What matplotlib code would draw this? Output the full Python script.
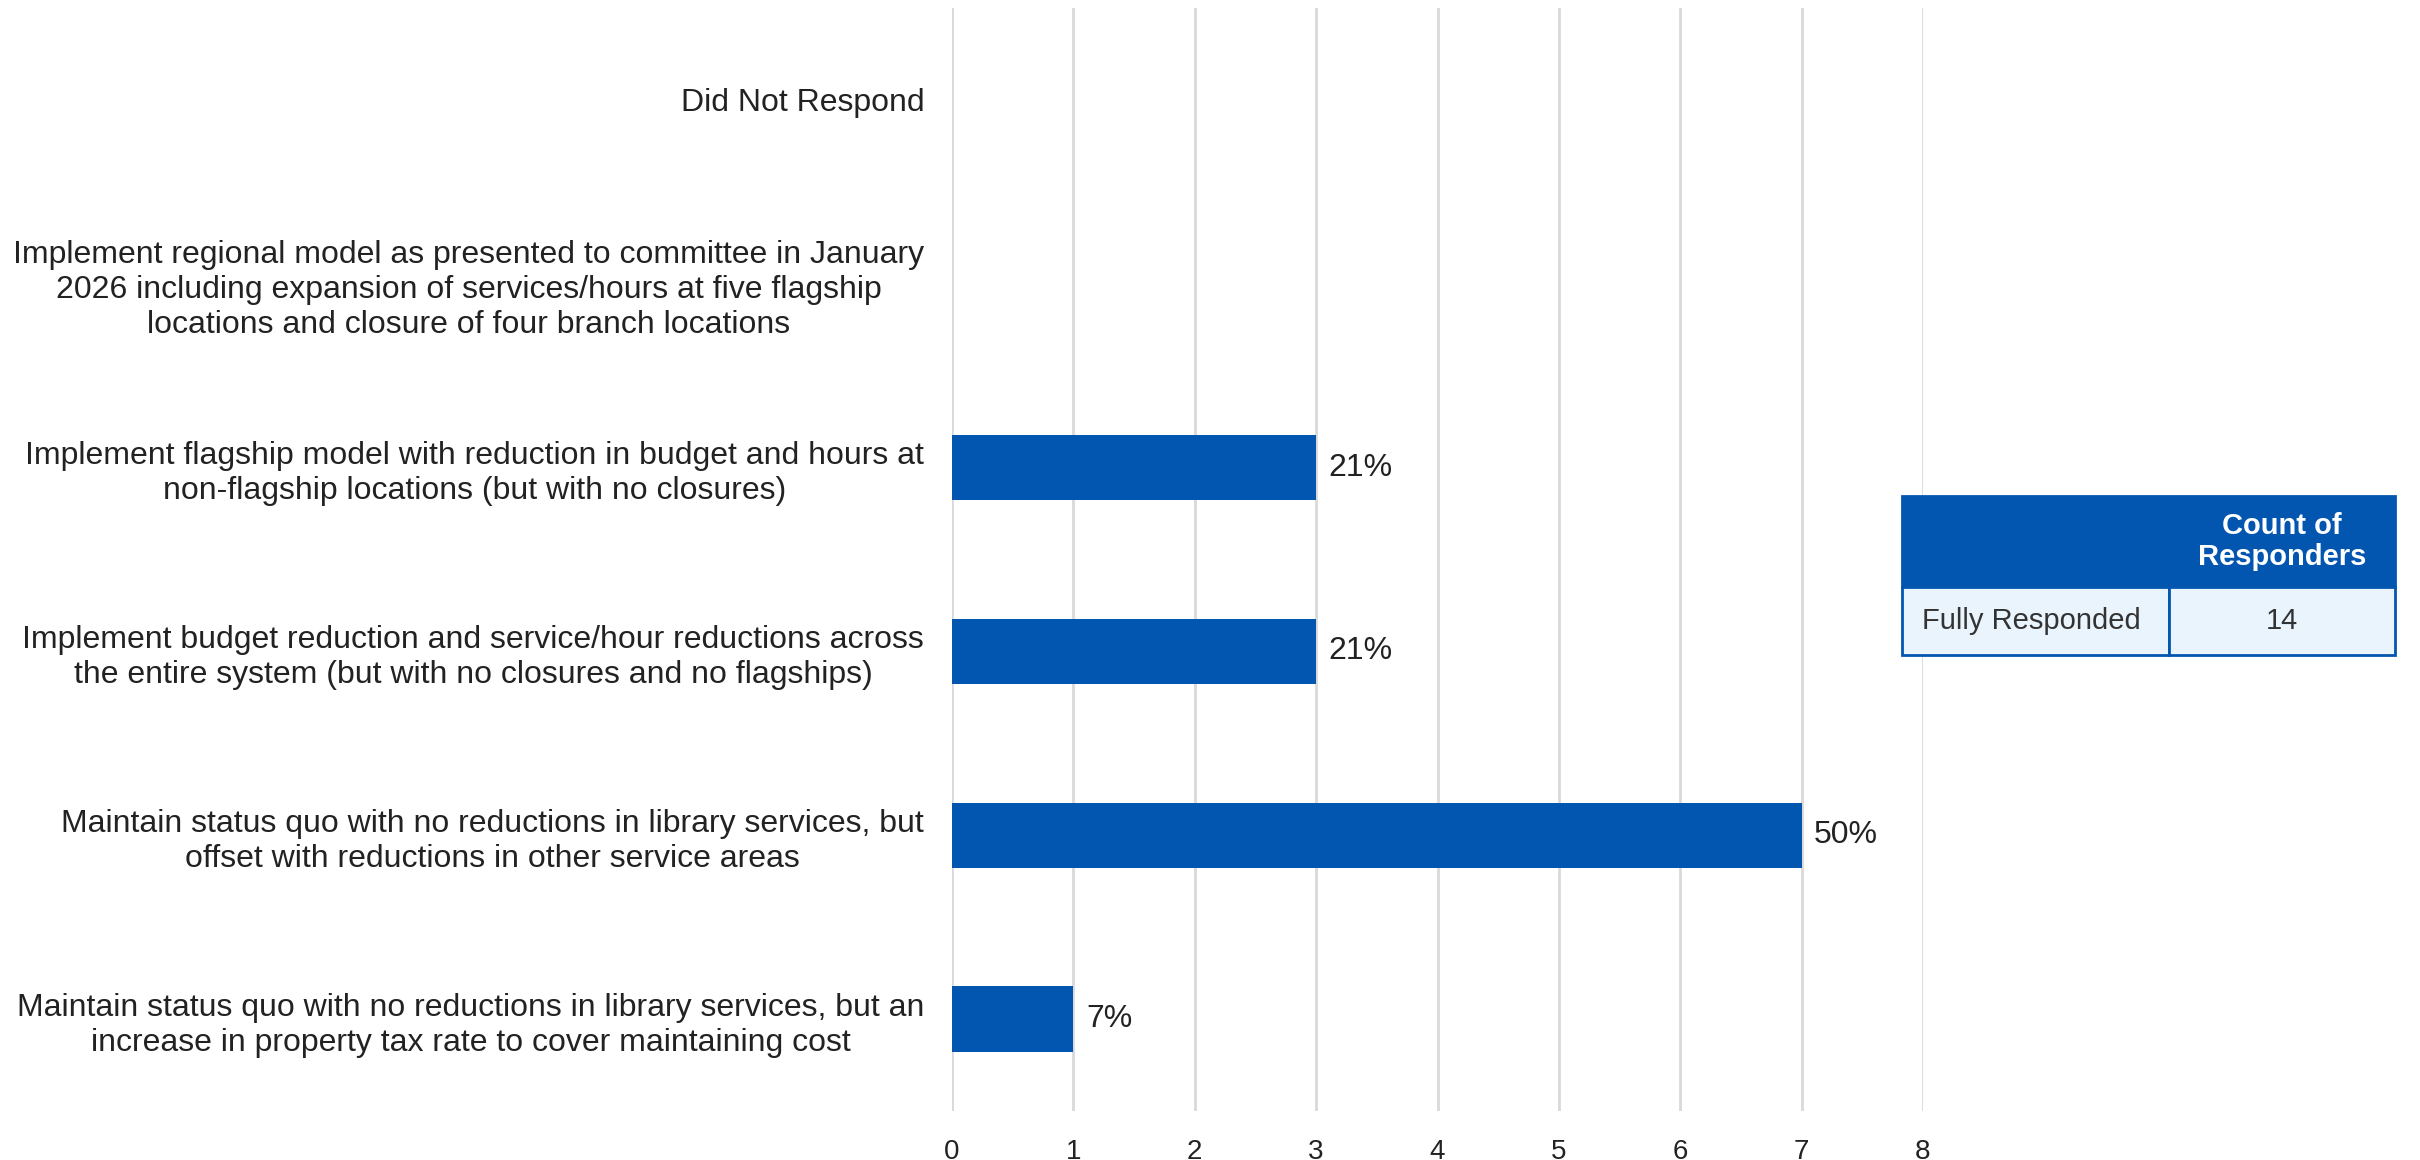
import matplotlib.pyplot as plt
from matplotlib.patches import Rectangle

plt.rcParams['font.family'] = ['Liberation Sans', 'DejaVu Sans']

# survey options, bottom to top as drawn
options = [
    'Maintain status quo with no reductions in library services, but an\nincrease in property tax rate to cover maintaining cost',
    'Maintain status quo with no reductions in library services, but\noffset with reductions in other service areas',
    'Implement budget reduction and service/hour reductions across\nthe entire system (but with no closures and no flagships)',
    'Implement flagship model with reduction in budget and hours at\nnon-flagship locations (but with no closures)',
    'Implement regional model as presented to committee in January\n2026 including expansion of services/hours at five flagship\nlocations and closure of four branch locations',
    'Did Not Respond',
]
counts = [1, 7, 3, 3, 0, 0]
total_responders = 14

table_header = ['', 'Count of\nResponders']
table_row = ['Fully Responded', '14']

BLUE = '#0356B0'
LIGHT = '#EAF4FD'
TEXT = '#222222'

fig = plt.figure(figsize=(24.2, 11.6), dpi=100)
ax = fig.add_axes([952 / 2420, 1 - 1111 / 1160, (1923 - 952) / 2420, (1111 - 8) / 1160])

ypos = range(len(options))
ax.barh(ypos, counts, height=0.355, color=BLUE, zorder=3)
for y, c in zip(ypos, counts):
    if c > 0:
        ax.annotate(f'{c / total_responders:.0%}', (c, y), xytext=(9, 0),
                    textcoords='offset points', va='center', ha='left',
                    fontsize=23, color=TEXT)

ax.set_xlim(0, 8)
ax.set_ylim(-0.5, len(options) - 0.5)
ax.set_xticks(range(0, 9))
ax.set_yticks(list(ypos))
ax.set_yticklabels(options, fontsize=23, color=TEXT, multialignment='center',
                   linespacing=1.22)
ax.tick_params(axis='y', length=0, pad=20)
ax.tick_params(axis='x', length=0, labelsize=20, labelcolor=TEXT, pad=20)
ax.grid(axis='x', color='#D9D9D9', linewidth=2, zorder=0)
for s in ax.spines.values():
    s.set_visible(False)

# responder count table, drawn in figure pixels
W, H = 2420, 1160
x0, x1, x2 = 1902, 2169, 2395
ytop, ymid, ybot = 496, 587, 655


def frect(xa, ya, xb, yb, **kw):
    fig.add_artist(Rectangle((xa / W, 1 - yb / H), (xb - xa) / W, (yb - ya) / H,
                             transform=fig.transFigure, **kw))


frect(x0, ytop, x2, ymid, facecolor=BLUE, edgecolor=BLUE, linewidth=2, zorder=5)
frect(x0, ymid, x1, ybot, facecolor=LIGHT, edgecolor=BLUE, linewidth=2, zorder=5)
frect(x1, ymid, x2, ybot, facecolor=LIGHT, edgecolor=BLUE, linewidth=2, zorder=5)
fig.text((x1 + x2) / 2 / W, 1 - (ytop + ymid) / 2 / H, table_header[1], ha='center',
         va='center', fontsize=21, fontweight='bold', color='white', zorder=6,
         linespacing=1.1)
fig.text((x0 + 20) / W, 1 - (ymid + ybot) / 2 / H, table_row[0], ha='left',
         va='center', fontsize=21, color='#333333', zorder=6)
fig.text((x1 + x2) / 2 / W, 1 - (ymid + ybot) / 2 / H, table_row[1], ha='center',
         va='center', fontsize=21, color='#333333', zorder=6)

fig.savefig('out.png', dpi=100)
